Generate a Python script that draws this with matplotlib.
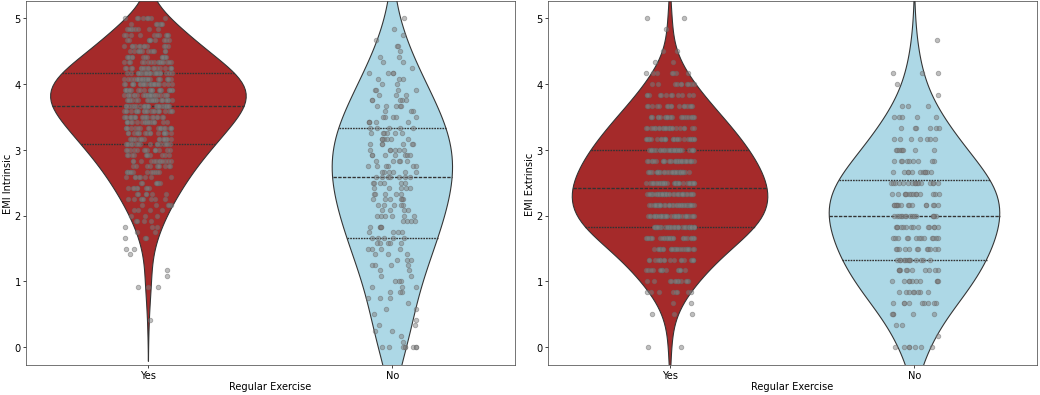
import numpy as np
import pandas as pd
import matplotlib
matplotlib.use("Agg")
import matplotlib.pyplot as plt
import seaborn as sns

plt.rcParams["font.size"] = 11

groups = ["Yes", "No"]
palette = ["brown", "lightblue"]

# intrinsic scores come in steps of 1/12 (0 .. 5)
intrinsic_levels = np.arange(61) / 12
intrinsic_yes = [0, 0, 0, 0, 0, 1, 0, 0, 0, 0, 0, 3, 0, 1, 1, 0, 0, 1, 2, 0,
                 3, 2, 3, 4, 3, 4, 5, 8, 6, 8, 7, 8, 12, 10, 12, 11, 14, 16, 16, 17,
                 18, 18, 20, 22, 24, 24, 24, 24, 24, 24, 22, 18, 16, 14, 12, 12, 10, 10, 8, 6,
                 8]
intrinsic_no = [8, 1, 1, 2, 2, 1, 1, 2, 1, 3, 3, 3, 3, 2, 2, 4, 3, 3, 4, 5,
                5, 4, 5, 4, 6, 4, 5, 6, 5, 5, 6, 7, 6, 6, 5, 7, 6, 6, 6, 6,
                5, 5, 5, 3, 5, 5, 3, 4, 2, 3, 4, 1, 2, 2, 1, 2, 1, 1, 1, 0,
                1]

# extrinsic scores come in steps of 1/6 (0 .. 5)
extrinsic_levels = np.arange(31) / 6
extrinsic_yes = [2, 0, 0, 3, 2, 8, 12, 14, 18, 24, 28, 38, 40, 40, 39, 40, 36, 34, 32, 28,
                 24, 22, 16, 12, 10, 7, 2, 2, 0, 1, 2]
extrinsic_no = [7, 1, 2, 5, 9, 8, 10, 11, 13, 12, 13, 14, 15, 15, 14, 16, 11, 9, 8, 7,
                6, 5, 3, 1, 1, 3, 0, 0, 1, 0, 0]


def make_frame(levels, yes_counts, no_counts, col):
    yes = np.repeat(levels, yes_counts)
    no = np.repeat(levels, no_counts)
    return pd.DataFrame({
        "Regular Exercise": ["Yes"] * len(yes) + ["No"] * len(no),
        col: np.concatenate([yes, no]),
    })


np.random.seed(3)  # only for strip jitter

fig, axes = plt.subplots(1, 2, figsize=(16, 6.09), dpi=65)

panels = [
    (make_frame(intrinsic_levels, intrinsic_yes, intrinsic_no, "EMI Intrinsic"), "EMI Intrinsic"),
    (make_frame(extrinsic_levels, extrinsic_yes, extrinsic_no, "EMI Extrinsic"), "EMI Extrinsic"),
]

for ax, (df, col) in zip(axes, panels):
    sns.violinplot(data=df, x="Regular Exercise", y=col, hue="Regular Exercise",
                   order=groups, hue_order=groups, palette=palette, saturation=1,
                   inner="quart", common_norm=True, legend=False, bw_adjust=1.35,
                   linecolor="#333333", linewidth=1.2,
                   inner_kws=dict(linewidth=1.5, color="#333333"), ax=ax)
    sns.stripplot(data=df, x="Regular Exercise", y=col, order=groups,
                  color="gray", alpha=0.5, jitter=True, size=5,
                  linewidth=1, edgecolor="dimgray", ax=ax)
    ax.set_ylim(-0.27, 5.255)
    ax.set_xlabel("Regular Exercise", labelpad=1.5)
    ax.set_ylabel(col, labelpad=2)
    ax.tick_params(length=3, pad=2.5)
    for s in ax.spines.values():
        s.set_edgecolor("#444444")

plt.subplots_adjust(left=25.7 / 1040, right=1036.7 / 1040,
                    bottom=1 - 366 / 396, top=1 - 2.3 / 396, wspace=0.068)
plt.savefig("out.png", dpi=65)
